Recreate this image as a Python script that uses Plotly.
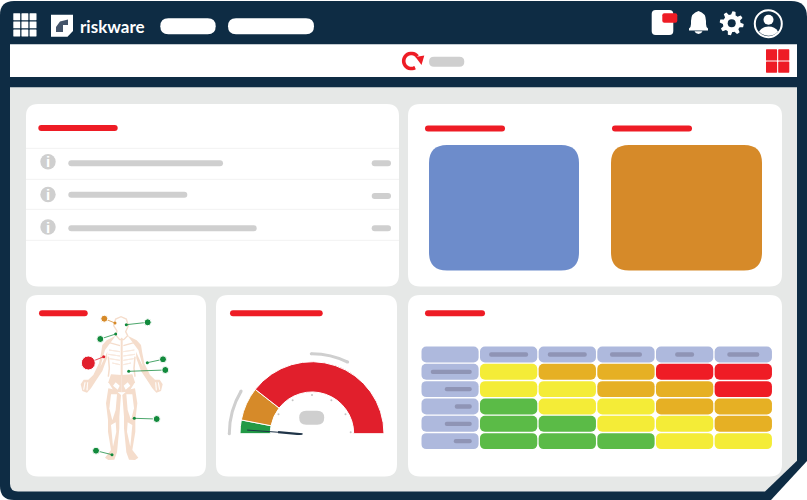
import numpy as np
import plotly.graph_objects as go

NAVY = "#0e2c44"
PANEL = "#e6e8e7"
RED = "#ee1c25"
GREY = "#cfcfcf"
SKIN = "#f5ddcc"

# risk matrix
matrix_levels = [
    ["low2", "amber", "amber", "red", "red"],
    ["low2", "low2", "amber", "amber", "red"],
    ["green", "low2", "low2", "amber", "amber"],
    ["green", "green", "low2", "low2", "amber"],
    ["green", "green", "green", "low2", "low2"],
]
level_colors = {"green": "#5bbb47", "low2": "#f4ec37", "amber": "#e6b024", "red": "#ef1c25"}
col_label_widths = [39, 39, 32, 19, 32]
row_label_widths = [41, 27, 17, 27, 18]

# gauge, degrees per band
gauge_values = [11, 27, 142]
gauge_colors = ["#229a46", "#d68a29", "#e11f2c"]
gauge_ticks = [150, 120, 90, 60, 30, 2]

# body map hotspots
spot_x = [104.3, 147.7, 100.3, 88.3, 163, 165.3, 156.7, 96]
spot_y = [318.7, 322.3, 339, 363, 359.3, 370, 419, 450.7]
anchor_x = [115, 126.3, 115.7, 103.7, 147.3, 128.7, 134.3, 112]
anchor_y = [323, 324.7, 334, 356.7, 362.7, 371.3, 418.3, 454.7]
spot_size = [7, 7, 7, 14, 7, 7, 7, 7]
spot_color = ["#d68a29", "#128a3c", "#128a3c", "#e11f2c", "#128a3c", "#128a3c", "#128a3c", "#128a3c"]


def rr(x0, y0, x1, y1, r):
    return (f"M{x0+r},{y0} L{x1-r},{y0} Q{x1},{y0} {x1},{y0+r} L{x1},{y1-r} Q{x1},{y1} {x1-r},{y1} "
            f"L{x0+r},{y1} Q{x0},{y1} {x0},{y1-r} L{x0},{y0+r} Q{x0},{y0} {x0+r},{y0} Z")


shapes = []


def fill(path, color):
    shapes.append(dict(type="path", path=path, fillcolor=color, line_width=0, xref="x", yref="y", layer="below"))


def stroke(path, color, width):
    shapes.append(dict(type="path", path=path, line=dict(color=color, width=width), xref="x", yref="y", layer="below"))


def box(x0, y0, x1, y1, color, r=None):
    fill(rr(x0, y0, x1, y1, (y1 - y0) / 2 if r is None else r), color)


def poly(pts):
    return "M" + " L".join(f"{x:.2f},{y:.2f}" for x, y in pts) + " Z"


# frame
fill("M0,15 Q0,1 14,1 L791,1 Q807,1 807,17 L807,461 L771,500 L14,500 Q0,500 0,486 Z", NAVY)
box(10, 44.3, 797, 77, "#ffffff", 0)
fill("M10,87.3 L797,87.3 L797,460.7 L765,491.5 L18,491.5 Q10,491.5 10,483.5 Z", PANEL)

# cards
for x0, y0, x1, y1 in [(26, 104, 399, 286.5), (408, 104, 782, 286.5), (26, 295, 206, 476.5),
                       (216, 295, 397, 476.5), (408, 295, 782, 476.5)]:
    box(x0, y0, x1, y1, "#ffffff", 12)

# card titles
for x0, x1, y0 in [(38.3, 117.7, 125), (425, 505, 125.5), (612, 692, 125.5), (39, 87.7, 310.3),
                   (230, 322.7, 310.3), (425, 485, 310.3)]:
    box(x0, y0, x1, y0 + 6, RED)

# list card
for y in [148.3, 179.3, 209.3, 240.3]:
    stroke(f"M26,{y} L399,{y}", "#f2f2f2", 1)
for cy, bar_end, chip in [(163.3, 223, 163.3), (194.7, 187.3, 196), (228.3, 256.7, 228.3)]:
    box(68.3, cy - 3, bar_end, cy + 3, GREY)
    box(371.7, chip - 3, 391, chip + 3, GREY)
for cy in (161.7, 194.5, 227):
    shapes.append(dict(type="circle", x0=40.3, x1=55.7, y0=cy - 7.7, y1=cy + 7.7, fillcolor=GREY, line_width=0,
                       layer="below"))

# kpi tiles
box(429, 145, 579, 270.5, "#6d8ccb", 18)
box(611, 145, 762, 270.5, "#d68a29", 18)

# top bar, app grid
for i in range(3):
    for j in range(3):
        box(13.3 + i * 8.15, 13.3 + j * 8.15, 20.2 + i * 8.15, 20.2 + j * 8.15, "#ffffff", 0.4)
# logo
fill("M51,14.7 L73,14.7 L73,31 L67.5,36.7 L51,36.7 Z", "#ffffff")
fill(poly([(56, 32), (56, 27), (60, 21.5), (68, 19.5), (68, 25), (63, 25), (63, 32)]), "#44546a")
box(160.3, 18.3, 215.7, 34.3, "#ffffff")
box(228, 18.3, 314, 34.3, "#ffffff")

# top bar, right icons
box(651.7, 10, 673.3, 35, "#ffffff", 4)
box(662.3, 13.3, 677.3, 22.7, RED, 2)
fill("M698.5,11 Q691,13 691,21 L691,24 Q691,27 689,28.5 L689,30.5 L708,30.5 L708,28.5 Q706,27 706,24 "
     "L706,21 Q706,13 698.5,11 Z", "#ffffff")
fill("M694.5,31.3 L702.5,31.3 Q701.5,34 698.5,34 Q695.5,34 694.5,31.3 Z", "#ffffff")

gear_a = np.deg2rad(np.arange(0, 360, 7.5) + 22.5 / 2)
gear_r = np.where(((np.arange(48) + 1) % 6) < 3, 12, 8.8)
fill(poly(zip(731.7 + gear_r * np.cos(gear_a), 23.3 + gear_r * np.sin(gear_a))), "#ffffff")
shapes.append(dict(type="circle", x0=727.7, x1=735.7, y0=19.3, y1=27.3, fillcolor=NAVY, line_width=0, layer="below"))

shapes.append(dict(type="circle", x0=754.8, x1=781.8, y0=10.2, y1=37.2, line=dict(color="#ffffff", width=2), layer="below"))
shapes.append(dict(type="circle", x0=763.5, x1=773.5, y0=14.8, y1=24.8, fillcolor="#ffffff", line_width=0, layer="below"))
fill("M759,31.5 Q762,26.5 768.5,26.5 Q775,26.5 778,31.5 Q774,35.8 768.5,35.8 Q763,35.8 759,31.5 Z", "#ffffff")

# toolbar
reload_a = np.deg2rad(np.arange(60, 325, 12))
stroke("M" + " L".join(f"{411.3 + 7.6 * np.cos(a):.2f},{61 + 7.6 * np.sin(a):.2f}" for a in reload_a), RED, 3.6)
fill(poly([(415.5, 57), (424.3, 55.5), (421.5, 65)]), RED)
box(429, 56.7, 464.3, 66.7, GREY)
for x0, y0 in [(766, 49.3), (778.2, 49.3), (766, 61.5), (778.2, 61.5)]:
    box(x0, y0, x0 + 11.1, y0 + 11.2, RED, 0.6)


# body figure, drawn in crop pixels around the centre line
def bx(x):
    return x / 3 + 25


def by(y):
    return y / 3 + 295


def body_path(pts, side=1):
    out = []
    for x, y in pts:
        px = x if side == 1 else 580 - x
        out.append((bx(px), by(y)))
    return poly(out)


arm = [(272, 122), (245, 136), (232, 150), (228, 175), (222, 205), (205, 240), (190, 254), (176, 254),
       (167, 268), (172, 288), (186, 293), (198, 280), (212, 258), (232, 228), (246, 190), (247, 170),
       (238, 190), (226, 215), (240, 165), (262, 136)]
leg = [(250, 280), (243, 325), (249, 375), (249, 410), (258, 465), (240, 488), (250, 495), (268, 494),
       (276, 472), (283, 400), (283, 365), (288, 300), (270, 284)]
for side in (1, -1):
    fill(body_path(arm, side), SKIN)
    fill(body_path(leg, side), SKIN)
    # inner gaps in thigh and shin
    fill(body_path([(258, 298), (253, 340), (262, 376), (272, 345), (276, 298)], side), "#ffffff")
    fill(body_path([(258, 390), (264, 455), (274, 410), (272, 382)], side), "#ffffff")
    # fingers
    stroke(body_path([(180, 262), (176, 284), (180, 262)], side), "#ffffff", 0.7)
    stroke(body_path([(188, 262), (186, 286), (188, 262)], side), "#ffffff", 0.7)
    # flank, collar bone and ribs
    stroke(body_path([(250, 185), (253, 220), (250, 245), (253, 220)], side), SKIN, 1.5)
    stroke(body_path([(250, 142), (285, 152), (250, 142)], side), SKIN, 1.2)
    for ry, rx in [(165, 252), (178, 250), (191, 254), (204, 262)]:
        stroke(body_path([(rx, ry), (285, ry + 5), (rx, ry)], side), "#f9e9de", 1)
    # pelvis
    fill(body_path([(290, 240), (258, 238), (250, 262), (268, 290), (290, 292)], side), SKIN)
    fill(body_path([(272, 262), (264, 272), (278, 284), (284, 272)], side), "#ffffff")

box(bx(287), by(128), bx(293), by(242), SKIN, 1)
stroke(body_path([(272, 120), (276, 108), (266, 92), (272, 72), (288, 65), (304, 72), (310, 92), (302, 110),
                  (308, 122), (296, 134), (284, 134)]), SKIN, 1.4)

fig = go.Figure()

# body map, leader lines then markers
for i in range(len(spot_x)):
    fig.add_trace(go.Scatter(x=[spot_x[i], anchor_x[i]], y=[spot_y[i], anchor_y[i]], mode="lines",
                             line=dict(color=spot_color[i], width=1), opacity=0.75,
                             hoverinfo="skip", showlegend=False))
fig.add_trace(go.Scatter(x=anchor_x, y=anchor_y, mode="markers", hoverinfo="skip", showlegend=False,
                         marker=dict(color=spot_color, size=3, opacity=1)))
fig.add_trace(go.Scatter(x=spot_x, y=spot_y, mode="markers", hoverinfo="skip", showlegend=False,
                         marker=dict(color=spot_color, size=spot_size, opacity=1)))

# risk matrix as bars on its own axes
n_rows, n_cols = len(matrix_levels), len(matrix_levels[0])
head_color = "#aeb9dd"
label_color = "#8f94b5"
PITCH = 58.67
cell_y = [0] * (n_cols + 1)
cell_base = list(range(n_cols + 1))
cell_color = [head_color] * (n_cols + 1)
for r, row in enumerate(matrix_levels):
    cell_y += [r + 1] * (n_cols + 1)
    cell_base += list(range(n_cols + 1))
    cell_color += [head_color] + [level_colors[v] for v in row]
fig.add_trace(go.Bar(x=[0.977] * len(cell_y), base=cell_base, y=cell_y, orientation="h", width=0.92,
                     marker=dict(color=cell_color, cornerradius=5, line_width=0),
                     xaxis="x2", yaxis="y2", hoverinfo="skip", showlegend=False))
fig.add_trace(go.Bar(x=[w / PITCH for w in col_label_widths],
                     base=[i + 1.4885 - w / PITCH / 2 for i, w in enumerate(col_label_widths)],
                     y=[0] * n_cols, orientation="h", width=0.25,
                     marker=dict(color=label_color, cornerradius="50%", line_width=0),
                     xaxis="x2", yaxis="y2", hoverinfo="skip", showlegend=False))
fig.add_trace(go.Bar(x=[w / PITCH for w in row_label_widths],
                     base=[0.86 - w / PITCH for w in row_label_widths],
                     y=list(range(1, n_rows + 1)), orientation="h", width=0.25,
                     marker=dict(color=label_color, cornerradius="50%", line_width=0),
                     xaxis="x2", yaxis="y2", hoverinfo="skip", showlegend=False))

# gauge on a polar subplot, sector opened a little so the needle tail is not clipped
edges = np.concatenate([[180], 180 - np.cumsum(gauge_values)])
fig.add_trace(go.Barpolar(r=[30.3] * 3, base=[41.7] * 3, theta=(edges[:-1] + edges[1:]) / 2, width=gauge_values,
                          marker=dict(color=gauge_colors, line=dict(color="#ffffff", width=1)),
                          hoverinfo="skip", showlegend=False))
fig.add_trace(go.Barpolar(r=[3, 3], base=[81.2, 78.5], theta=[164.5, 77], width=[31, 27],
                          marker=dict(color=GREY, line_width=0), hoverinfo="skip", showlegend=False))
fig.add_trace(go.Scatterpolar(r=[82.7, 82.7, 80, 80], theta=[180, 149, 90.5, 63.5], mode="markers",
                              marker=dict(color=GREY, size=3, opacity=1), hoverinfo="skip", showlegend=False))
fig.add_trace(go.Scatterpolar(r=[38.7] * len(gauge_ticks), theta=gauge_ticks, mode="markers",
                              marker=dict(color="#c4c4c4", size=2), hoverinfo="skip", showlegend=False))
fig.add_trace(go.Scatterpolar(r=[65, 34], theta=[176.8, 177.5], mode="lines", line=dict(color="#1f3448", width=1),
                              hoverinfo="skip", showlegend=False))
fig.add_trace(go.Scatterpolar(r=[34, 9.5], theta=[177.5, 184], mode="lines", line=dict(color="#1f3448", width=2.2),
                              hoverinfo="skip", showlegend=False))

R_MAX = 85
TAIL = 6  # degrees the sector runs past each end
drop = R_MAX * np.sin(np.deg2rad(TAIL))

fig.update_layout(
    width=807, height=500, margin=dict(l=0, r=0, t=0, b=0),
    paper_bgcolor="#ffffff", plot_bgcolor="rgba(0,0,0,0)", barmode="overlay", showlegend=False,
    shapes=shapes,
    xaxis=dict(range=[0, 807], domain=[0, 1], visible=False, fixedrange=True),
    yaxis=dict(range=[500, 0], domain=[0, 1], visible=False, fixedrange=True),
    xaxis2=dict(range=[0, 6], domain=[421.3 / 807, 773.3 / 807], visible=False, anchor="y2"),
    yaxis2=dict(range=[5.5, -0.5], domain=[(500 - 449.8) / 500, (500 - 345.8) / 500], visible=False, anchor="x2"),
    polar=dict(
        domain=dict(x=[(312 - R_MAX) / 807, (312 + R_MAX) / 807],
                    y=[(500 - 433.7 - drop) / 500, (500 - 433.7 + R_MAX) / 500]),
        sector=[-TAIL, 180 + TAIL], bgcolor="rgba(0,0,0,0)",
        radialaxis=dict(range=[0, R_MAX], visible=False),
        angularaxis=dict(visible=False, direction="counterclockwise", rotation=0),
    ),
    annotations=[
        dict(text="riskware", x=77.5, y=26, xref="x", yref="y", xanchor="left", yanchor="middle", showarrow=False,
             font=dict(family="Lato", size=17, color="#ffffff", weight=700)),
    ] + [dict(text="i", x=48, y=cy, xref="x", yref="y", showarrow=False,
              font=dict(family="Liberation Sans", size=15, color="#ffffff", weight=700)) for cy in (161.7, 194.5, 227)],
)

fig.add_shape(type="path", path=rr(299.2, 410.7, 324.2, 424.7, 7), fillcolor=GREY, line_width=0, layer="above")

fig.write_html("out.html", config=dict(displayModeBar=False),
               post_script="document.body.style.margin='0';")
